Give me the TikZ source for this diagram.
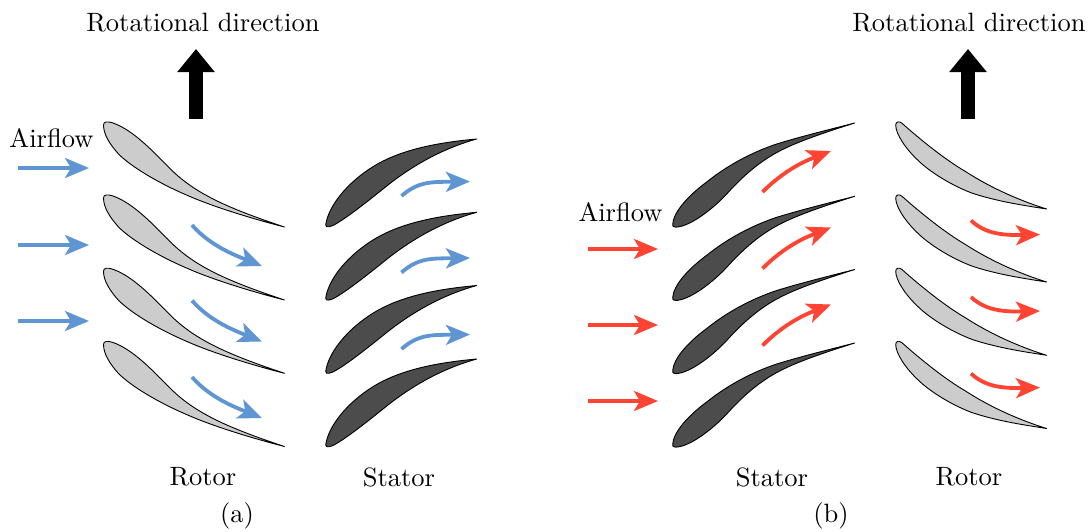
\documentclass[tikz,border=0pt]{standalone}
\usetikzlibrary{arrows.meta}
\definecolor{bladeLight}{gray}{0.8}
\definecolor{bladeDark}{gray}{0.3}
\definecolor{flowBlue}{HTML}{5F95D3}
\definecolor{flowRed}{HTML}{FF4433}
\tikzset{
  lbl/.style={scale=2.65,inner sep=0pt,text=black},
  blade/.style={draw=black,line width=0.9pt,line join=round},
  flow/.style={line width=3.8pt,-{Stealth[length=24pt,width=20pt,inset=6pt]}},
  bigarrow/.style={line width=14pt,draw=black,-{Triangle[length=23pt,width=36pt]}},
  rotorA/.pic={\path[blade,fill=bladeLight] (0,3) .. controls (0,-0.5) and (4,-0.8) .. (9,0.8) .. controls (30,8) and (50,30) .. (67,47) .. controls (85,65) and (105,75) .. (120,82) .. controls (140,91) and (160,98) .. (181,105)
     .. controls (150,97) and (110,85) .. (83,73) .. controls (55,61) and (28,45) .. (15,32) .. controls (6,22) and (0,12) .. (0,3) -- cycle;},
  statorA/.pic={\path[blade,fill=bladeDark] (0,-2) .. controls (2,-17) and (15,-37) .. (38,-54) .. controls (62,-72) and (95,-83) .. (151,-88)
     .. controls (115,-78) and (85,-60) .. (61,-41) .. controls (40,-24) and (22,-10) .. (10,-3) .. controls (6,-0.5) and (0,1.5) .. (0,-2) -- cycle;},
  statorB/.pic={\path[blade,fill=bladeDark] (0,-3) .. controls (1,-15) and (15,-31) .. (34,-45) .. controls (55,-62) and (80,-75) .. (104,-83) .. controls (130,-91) and (155,-97) .. (182,-104)
     .. controls (150,-94) and (125,-85) .. (111,-78) .. controls (90,-68) and (72,-53) .. (54,-33) .. controls (42,-20) and (20,-2) .. (5,0) .. controls (2,0.3) and (-0.5,0) .. (0,-3) -- cycle;},
  rotorB/.pic={\path[blade,fill=bladeLight] (0,3) .. controls (0,-0.5) and (3.5,-1) .. (6,1) .. controls (25,18) and (50,38) .. (69,49) .. controls (95,66) and (125,79) .. (151,87)
     .. controls (125,83) and (100,79) .. (76,71) .. controls (50,61) and (30,46) .. (23,39) .. controls (10,27) and (0,12) .. (0,3) -- cycle;},
}
\begin{document}
\begin{tikzpicture}[x=1pt,y=-1pt]
\useasboundingbox (0,0) rectangle (1089,531);
% blades
\foreach \n/\y in {1/122,2/195,3/268.3,4/341.5}{
  \pic (ra\n) at (103.5,\y) {rotorA};
  \pic (rb\n) at (895.7,\y) {rotorB};
}
\foreach \n/\y in {1/227,2/300.3,3/373.5,4/447}{
  \pic (sa\n) at (325.7,\y) {statorA};
  \pic (sb\n) at (672.7,\y) {statorB};
}
% big arrows
\coordinate (aBase) at (196,119); \coordinate (aTip) at (196,49);
\coordinate (bBase) at (968,119); \coordinate (bTip) at (968,49);
\draw[bigarrow] (aBase) -- (aTip);
\draw[bigarrow] (bBase) -- (bTip);
% inlet arrows
\foreach \n/\y in {1/168,2/245,3/321}{
  \coordinate (ia\n) at (18,\y); \coordinate (oa\n) at (89,\y);
  \draw[flow,flowBlue] (ia\n) -- (oa\n);
}
\foreach \n/\y in {1/249,2/325,3/401}{
  \coordinate (ib\n) at (588,\y); \coordinate (ob\n) at (658,\y);
  \draw[flow,flowRed] (ib\n) -- (ob\n);
}
% rotor a flow
\foreach \n/\y in {1/225,2/300.5,3/377}{
  \coordinate (rs\n) at (192,\y); \coordinate (re\n) at (262,\y+41);
  \draw[flow,flowBlue] (rs\n) .. controls +(18,21) and +(-25,-10) .. (re\n);
}
% stator a flow
\foreach \n/\y in {1/196,2/272.5,3/349}{
  \coordinate (ss\n) at (401.5,\y); \coordinate (se\n) at (470,\y-14.5);
  \draw[flow,flowBlue] (ss\n) .. controls +(17,-15) and +(-38,0.5) .. (se\n);
}
% stator b flow
\foreach \n/\y in {1/192,2/268.5,3/345.5}{
  \coordinate (ts\n) at (762.5,\y); \coordinate (te\n) at (831,\y-41);
  \draw[flow,flowRed] (ts\n) .. controls +(22,-22) and +(-26,10) .. (te\n);
}
% rotor b flow
\foreach \n/\y in {1/220.5,2/297,3/373.5}{
  \coordinate (us\n) at (971,\y); \coordinate (ue\n) at (1040,\y+14);
  \draw[flow,flowRed] (us\n) .. controls +(14,13) and +(-38,1) .. (ue\n);
}
% labels
\node[lbl] (rd1) at (203,23) {Rotational direction};
\node[lbl] (rd2) at (969,23) {Rotational direction};
\node[lbl] (af1) at (51.5,138) {Airflow};
\node[lbl] (af2) at (620.5,212) {Airflow};
\node[lbl] (l1) at (203,477) {Rotor};
\node[lbl] (l2) at (399,477) {Stator};
\node[lbl] (l3) at (772,477) {Stator};
\node[lbl] (l4) at (969,477) {Rotor};
\node[lbl] (ca) at (237,516) {(a)};
\node[lbl] (cb) at (831,516) {(b)};
\end{tikzpicture}
\end{document}
